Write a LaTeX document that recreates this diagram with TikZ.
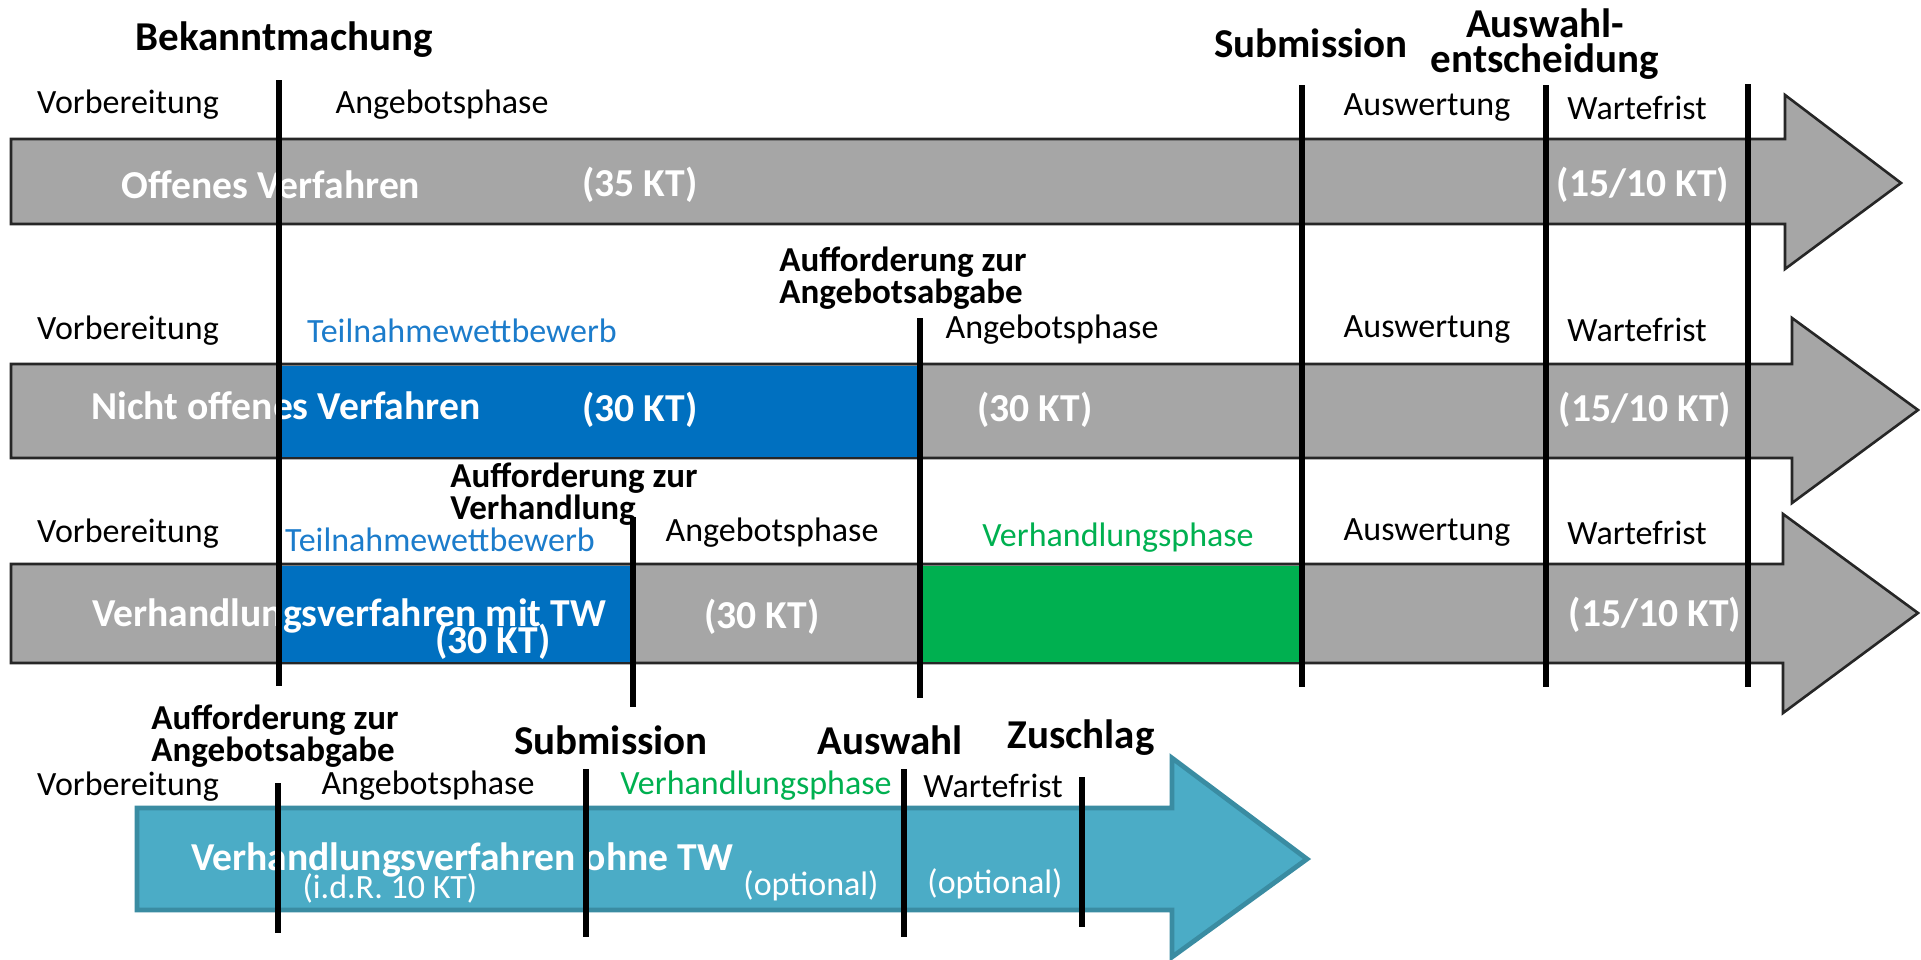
\documentclass[tikz,border=0pt]{standalone}
\usepackage{fontspec}
\setmainfont{Carlito}
\usetikzlibrary{calc}
\definecolor{balken}{HTML}{A6A6A6}
\definecolor{tw}{HTML}{0070C0}
\definecolor{vh}{HTML}{00B050}
\definecolor{twtext}{HTML}{1C7CCB}
\definecolor{ohne}{HTML}{4BACC6}
\definecolor{ohnerand}{HTML}{3A8CA2}
\tikzset{
    phase/.style={inner sep=0pt,font=\fontsize{17}{20}\selectfont},
    dauer/.style={inner sep=0pt,text=white,font=\fontsize{19.8}{24}\selectfont\bfseries},
    klein/.style={inner sep=0pt,text=white,font=\fontsize{17}{20}\selectfont},
    ereignis/.style={inner sep=0pt,align=center,font=\fontsize{20.5}{17.5}\selectfont\bfseries},
    aufford/.style={inner sep=0pt,align=left,font=\fontsize{17.5}{16}\selectfont\bfseries},
    strich/.style={line width=2.6pt},
    pfeil/.style={fill=balken,draw=black!85,line width=1.3pt,line join=miter},
    pfeilohne/.style={fill=ohne,draw=ohnerand,line width=2.4pt,line join=miter},
  }
\begin{document}
\begin{tikzpicture}[x=0.5pt,y=-0.5pt]
  %bild in pixeln, y nach unten
  \useasboundingbox (0,0) rectangle (1921,959);
  %balken
  \draw[pfeil] (11,139) -- (1785,139) -- (1785,95) -- (1901,183) -- (1785,269) -- (1785,224) -- (11,224) -- cycle;
  \draw[pfeil] (11,364) -- (1792,364) -- (1792,318) -- (1918,410) -- (1792,503) -- (1792,458) -- (11,458) -- cycle;
  \draw[pfeil] (11,564) -- (1783,564) -- (1783,514) -- (1918,613) -- (1783,713) -- (1783,663) -- (11,663) -- cycle;
  \draw[pfeilohne] (137,808) -- (1172,808) -- (1172,758) -- (1307,859) -- (1172,957) -- (1172,910) -- (137,910) -- cycle;
  \fill[tw] (282,365.5) rectangle (919,456.5);
  \fill[tw] (282,565.5) rectangle (631,661.5);
  \fill[vh] (922,565.5) rectangle (1302,661.5);

  %offenes verfahren
  \node[ereignis] (bek) at (284,40) {Bekanntmachung};
  \node[ereignis] (sub1) at (1311,43) {Submission};
  \node[ereignis] (auswahl1) at (1545,44) {Auswahl-\\entscheidung};
  \node[phase] (vorb1) at (128,105) {Vorbereitung};
  \node[phase] (ang1) at (442,105) {Angebotsphase};
  \node[phase] (wert1) at (1427,108) {Auswertung};
  \node[phase] (warte1) at (1637,108) {Wartefrist};
  \node[dauer] (ov) at (271,185) {Offenes Verfahren};
  \node[dauer] (ov-kt) at (640,185) {(35 KT)};
  \node[dauer] (ov-wf) at (1643,185) {(15/10 KT)};

  %nicht offenes verfahren
  \node[aufford] (abg2) at (903,278) {Aufforderung zur\\Angebotsabgabe};
  \node[phase] (vorb2) at (128,331) {Vorbereitung};
  \node[phase,text=twtext] (tw2) at (462,331) {Teilnahmewettbewerb};
  \node[phase] (ang2) at (1052,330) {Angebotsphase};
  \node[phase] (wert2) at (1427,330) {Auswertung};
  \node[phase] (warte2) at (1637,330) {Wartefrist};
  \node[dauer] (nov) at (286,406) {Nicht offenes Verfahren};
  \node[dauer] (nov-tw) at (640,410) {(30 KT)};
  \node[dauer] (nov-kt) at (1035,410) {(30 KT)};
  \node[dauer] (nov-wf) at (1645,410) {(15/10 KT)};

  %verhandlungsverfahren mit tw
  \node[aufford] (verh3) at (574,494) {Aufforderung zur\\Verhandlung};
  \node[phase] (vorb3) at (128,534) {Vorbereitung};
  \node[phase,text=twtext] (tw3) at (440,540) {Teilnahmewettbewerb};
  \node[phase] (ang3) at (772,533) {Angebotsphase};
  \node[phase,text=vh] (vhp3) at (1118,538) {Verhandlungsphase};
  \node[phase] (wert3) at (1427,533) {Auswertung};
  \node[phase] (warte3) at (1637,533) {Wartefrist};
  \node[dauer] (vmit) at (349,616) {Verhandlungsverfahren mit TW};
  \node[dauer] (vmit-tw) at (493,642) {(30 KT)};
  \node[dauer] (vmit-kt) at (762,617) {(30 KT)};
  \node[dauer] (vmit-wf) at (1655,615) {(15/10 KT)};

  %verhandlungsverfahren ohne tw
  \node[aufford] (abg4) at (275,736) {Aufforderung zur\\Angebotsabgabe};
  \node[ereignis] (sub4) at (611,740) {Submission};
  \node[ereignis] (auswahl4) at (890,740) {Auswahl};
  \node[ereignis] (zuschlag4) at (1081,738) {Zuschlag};
  \node[phase] (vorb4) at (128,787) {Vorbereitung};
  \node[phase] (ang4) at (428,786) {Angebotsphase};
  \node[phase,text=vh] (vhp4) at (756,786) {Verhandlungsphase};
  \node[phase] (warte4) at (993,786) {Wartefrist};
  \node[dauer] (vohne) at (462,860) {Verhandlungsverfahren ohne TW};
  \node[klein] (vohne-kt) at (390,888) {(i.d.R. 10 KT)};
  \node[klein] (vohne-opt1) at (811,886) {(optional)};
  \node[klein] (vohne-opt2) at (995,884) {(optional)};

  %striche
  \coordinate (bek-o) at (279,80);   \coordinate (bek-u) at (279,686);
  \coordinate (sub-o) at (1302,85);  \coordinate (sub-u) at (1302,687);
  \coordinate (ausw-o) at (1546,85); \coordinate (ausw-u) at (1546,687);
  \coordinate (ende-o) at (1748,84); \coordinate (ende-u) at (1748,687);
  \coordinate (abg-o) at (920,318);  \coordinate (abg-u) at (920,698);
  \coordinate (verh-o) at (633,517); \coordinate (verh-u) at (633,707);
  \coordinate (abg4-o) at (278,783); \coordinate (abg4-u) at (278,933);
  \coordinate (sub4-o) at (586,769); \coordinate (sub4-u) at (586,937);
  \coordinate (ausw4-o) at (904,769); \coordinate (ausw4-u) at (904,937);
  \coordinate (zu4-o) at (1082,777); \coordinate (zu4-u) at (1082,927);
  \foreach \s in {bek,sub,ausw,ende,abg,verh,abg4,sub4,ausw4,zu4}
    \draw[strich] (\s-o) -- (\s-u);
\end{tikzpicture}
\end{document}
